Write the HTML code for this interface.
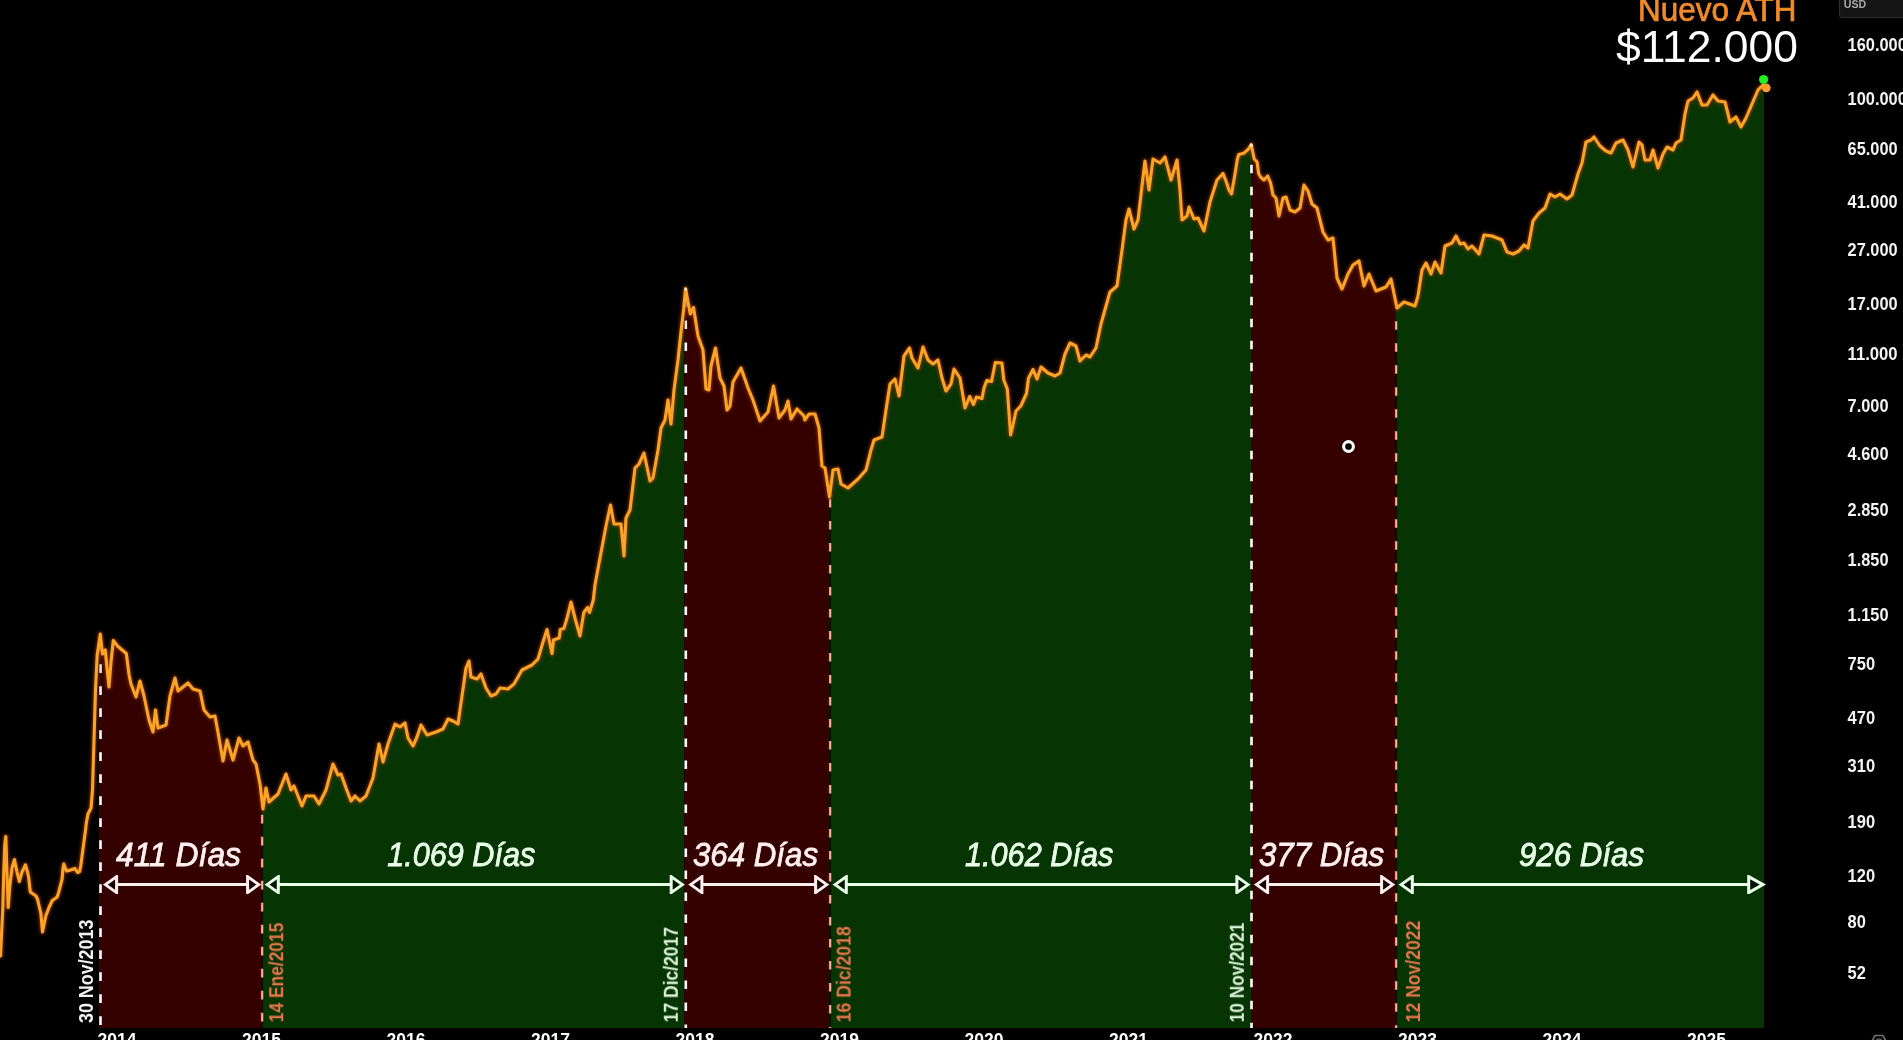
<!DOCTYPE html>
<html lang="es">
<head>
<meta charset="utf-8">
<title>Bitcoin ciclos - Nuevo ATH</title>
<style>
html,body{margin:0;padding:0;background:#000;overflow:hidden}
body{width:1903px;height:1040px;position:relative;font-family:"Liberation Sans",sans-serif}
svg{position:absolute;left:0;top:0;display:block}
svg text{font-family:"Liberation Sans",sans-serif}
</style>
</head>
<body>
<svg width="1903" height="1040" viewBox="0 0 1903 1040">
<defs>
<filter id="glow" x="-5%" y="-5%" width="110%" height="110%"><feGaussianBlur stdDeviation="1.6"/></filter>
<filter id="soft" x="-5%" y="-5%" width="110%" height="110%"><feGaussianBlur stdDeviation="0.6"/></filter>
</defs>
<rect width="1903" height="1040" fill="#000"/>
<g id="regions">
<path d="M98.8,1028 L98.8,644.2 L100.3,634.0 L102.5,654.0 L105.3,650.0 L107.0,668.0 L109.0,687.0 L111.0,662.0 L113.3,640.5 L118.0,646.5 L126.3,653.5 L129.1,675.0 L131.0,684.0 L136.0,697.0 L140.0,681.0 L144.0,696.0 L149.0,720.0 L153.0,732.0 L155.5,710.0 L158.0,728.0 L166.0,725.0 L170.0,696.0 L175.0,678.0 L178.0,691.0 L188.0,683.0 L193.0,689.0 L200.0,691.0 L204.0,710.0 L210.0,717.0 L215.0,716.0 L219.0,738.0 L223.0,761.0 L227.0,740.0 L233.0,760.0 L239.0,738.0 L243.0,746.0 L248.0,742.0 L253.0,760.0 L256.0,764.0 L260.0,784.0 L261.8,799.0 L261.8,1028 Z" fill="#340000"/>
<path d="M261.8,1028 L261.8,799.0 L263.0,809.0 L266.0,788.0 L269.0,802.0 L278.0,794.0 L286.0,774.0 L291.0,790.0 L294.0,786.0 L302.0,806.0 L306.0,796.0 L314.0,796.0 L319.0,804.0 L326.0,790.0 L333.0,764.0 L338.0,775.0 L341.0,774.0 L346.0,788.0 L351.0,801.0 L355.0,796.0 L360.0,801.0 L366.0,796.0 L373.0,778.0 L379.0,744.0 L383.0,762.0 L388.0,744.0 L395.0,724.0 L400.0,727.0 L405.0,723.0 L408.0,738.0 L413.0,746.0 L417.0,737.0 L421.0,725.0 L427.0,735.0 L436.0,732.0 L443.0,729.0 L448.0,719.0 L453.0,721.0 L458.0,724.0 L462.0,696.0 L466.0,668.0 L469.0,661.0 L471.0,677.0 L477.0,679.0 L481.0,674.0 L486.0,688.0 L491.0,696.0 L496.0,694.0 L500.0,688.0 L508.0,689.0 L514.0,684.0 L522.0,670.0 L532.0,665.0 L538.0,659.0 L543.0,642.0 L547.0,629.5 L552.0,653.5 L553.5,640.0 L559.2,638.0 L560.3,629.5 L563.9,628.5 L566.8,619.0 L571.0,602.0 L575.5,620.0 L580.0,636.0 L583.8,612.5 L587.6,607.5 L589.5,612.5 L593.3,600.0 L595.0,585.0 L600.0,558.0 L606.0,526.0 L610.5,505.0 L614.0,524.0 L621.0,524.0 L624.0,556.0 L626.0,518.0 L630.0,510.0 L635.0,468.0 L639.0,464.0 L644.0,453.0 L650.0,481.0 L653.0,478.0 L658.0,450.0 L661.0,428.0 L665.0,420.0 L668.0,400.0 L671.0,424.0 L674.0,390.0 L678.0,360.0 L681.0,332.0 L683.7,309.0 L684.3,302.5 L684.3,1028 Z" fill="#063503"/>
<path d="M684.3,1028 L684.3,302.5 L685.6,288.5 L687.6,300.0 L690.3,314.0 L693.5,307.5 L698.0,336.0 L703.0,350.0 L706.0,389.0 L709.0,390.0 L711.0,366.0 L715.5,348.0 L720.0,378.0 L724.0,386.0 L727.0,410.0 L730.0,406.0 L733.0,382.0 L741.0,368.0 L748.0,388.0 L753.0,400.0 L760.0,421.0 L768.0,412.0 L773.5,386.0 L779.0,418.0 L785.0,410.0 L788.0,401.0 L791.0,419.0 L797.0,409.0 L804.0,416.0 L805.0,420.0 L809.0,414.0 L815.0,414.0 L819.0,428.0 L822.0,466.0 L825.0,468.0 L828.6,491.2 L828.6,1028 Z" fill="#340000"/>
<path d="M828.6,1028 L828.6,491.2 L829.5,497.0 L833.0,470.0 L838.0,469.0 L841.0,484.0 L848.0,488.0 L858.0,479.0 L866.0,470.0 L871.0,450.0 L874.0,440.0 L882.0,437.0 L886.0,410.0 L890.0,384.0 L895.0,379.0 L899.0,396.0 L904.0,356.0 L909.5,348.0 L912.0,358.0 L918.0,368.0 L923.0,347.0 L928.0,360.0 L933.0,364.0 L938.0,360.0 L942.0,378.0 L946.0,391.0 L951.0,384.0 L954.0,369.0 L960.0,378.0 L965.0,408.0 L969.7,396.5 L973.5,404.5 L976.4,397.0 L982.0,398.5 L984.0,388.0 L986.8,380.5 L991.5,381.5 L995.3,362.5 L1001.9,363.0 L1003.8,380.0 L1007.3,389.0 L1010.6,435.0 L1013.0,425.0 L1016.0,411.0 L1020.8,406.0 L1026.5,393.5 L1028.4,378.5 L1033.0,369.5 L1037.0,379.0 L1041.0,367.0 L1048.0,373.0 L1055.0,376.0 L1060.0,373.0 L1065.0,354.0 L1070.0,343.0 L1076.0,346.0 L1080.0,361.0 L1086.0,355.0 L1090.0,357.0 L1096.0,348.0 L1101.0,324.0 L1106.0,306.0 L1110.0,292.0 L1117.0,286.0 L1122.0,250.0 L1126.0,220.0 L1129.0,209.0 L1134.0,229.0 L1138.0,220.0 L1142.0,186.0 L1145.0,161.0 L1149.0,190.0 L1153.0,159.0 L1160.0,163.0 L1165.0,157.0 L1171.0,180.0 L1177.0,160.0 L1180.0,190.0 L1182.0,220.0 L1187.0,216.0 L1189.0,207.0 L1194.0,219.0 L1198.0,218.0 L1204.0,231.0 L1210.0,202.0 L1217.0,180.0 L1223.0,173.5 L1226.0,181.0 L1229.0,190.0 L1231.5,194.0 L1235.0,174.0 L1237.4,159.0 L1238.8,154.5 L1243.7,153.3 L1248.5,149.0 L1251.0,145.0 L1251.0,1028 Z" fill="#063503"/>
<path d="M1251.0,1028 L1251.0,145.0 L1251.3,144.5 L1254.2,159.0 L1257.1,162.0 L1258.6,173.5 L1261.0,177.5 L1264.0,180.0 L1267.7,176.0 L1270.6,183.0 L1273.0,195.0 L1276.0,198.0 L1279.0,216.0 L1283.0,198.0 L1286.0,197.0 L1290.0,210.0 L1295.0,212.0 L1300.0,208.0 L1304.0,185.0 L1308.0,191.0 L1312.0,204.0 L1317.0,208.0 L1323.0,232.0 L1328.0,240.0 L1333.0,238.0 L1337.0,278.0 L1342.0,289.0 L1348.0,274.0 L1353.0,265.0 L1359.0,261.0 L1364.0,286.0 L1369.0,274.0 L1376.0,291.0 L1386.0,287.0 L1391.0,279.0 L1395.2,299.3 L1395.2,1028 Z" fill="#340000"/>
<path d="M1395.2,1028 L1395.2,299.3 L1397.0,308.0 L1404.0,302.0 L1415.0,306.0 L1418.0,296.0 L1422.0,270.0 L1426.0,263.0 L1431.0,274.0 L1435.0,262.0 L1441.0,273.0 L1445.0,246.0 L1452.0,243.0 L1456.0,236.0 L1460.0,244.0 L1464.0,243.0 L1468.0,249.0 L1472.0,246.0 L1479.0,254.0 L1484.0,235.0 L1492.0,236.0 L1502.0,240.0 L1507.0,252.0 L1513.0,254.0 L1519.0,251.0 L1524.0,245.0 L1528.0,248.0 L1533.0,221.0 L1539.0,213.0 L1545.0,208.0 L1550.0,194.0 L1555.0,197.0 L1560.0,194.0 L1567.0,199.0 L1572.0,195.0 L1578.0,174.0 L1582.0,163.0 L1586.0,142.0 L1591.0,140.0 L1594.0,137.0 L1600.0,146.0 L1606.0,151.0 L1611.0,153.0 L1616.0,143.0 L1623.0,140.0 L1628.0,150.0 L1633.0,167.0 L1639.0,142.0 L1642.0,145.0 L1645.0,160.0 L1650.0,160.0 L1653.0,150.0 L1658.0,168.0 L1663.0,154.0 L1667.0,147.0 L1673.0,150.0 L1676.0,143.0 L1681.0,140.0 L1685.0,114.0 L1688.0,101.0 L1693.0,98.0 L1697.0,92.0 L1702.0,105.0 L1707.0,105.0 L1713.0,95.0 L1718.0,101.0 L1725.0,102.0 L1730.0,122.0 L1736.0,117.0 L1741.0,127.0 L1746.0,118.0 L1752.0,104.0 L1758.0,90.0 L1763.0,85.0 L1764.0,85.0 L1764.0,1028 Z" fill="#063503"/>
</g>
<g id="dashes" filter="url(#soft)">
<line x1="100.5" y1="642.3" x2="100.5" y2="1028" stroke="#ffffff" stroke-width="2.6" stroke-dasharray="8.6 13.4"/>
<line x1="262.2" y1="814.8" x2="262.2" y2="1028" stroke="#0c0600" stroke-width="1.8" opacity="0.75"/>
<line x1="261.0" y1="814.8" x2="261.0" y2="1028" stroke="#b01010" stroke-width="1.6" opacity="0.55" stroke-dasharray="8.6 13.4"/>
<line x1="262.2" y1="814.8" x2="262.2" y2="1028" stroke="#e4bca8" stroke-width="2.1" stroke-dasharray="8.6 13.4"/>
<line x1="685.8" y1="298.5" x2="685.8" y2="1028" stroke="#ffffff" stroke-width="2.6" stroke-dasharray="8.6 13.4"/>
<line x1="830.2" y1="499.0" x2="830.2" y2="1028" stroke="#0c0600" stroke-width="1.8" opacity="0.75"/>
<line x1="829.0" y1="499.0" x2="829.0" y2="1028" stroke="#b01010" stroke-width="1.6" opacity="0.55" stroke-dasharray="8.6 13.4"/>
<line x1="830.2" y1="499.0" x2="830.2" y2="1028" stroke="#e4bca8" stroke-width="2.1" stroke-dasharray="8.6 13.4"/>
<line x1="1251.5" y1="164.7" x2="1251.5" y2="1028" stroke="#ffffff" stroke-width="2.6" stroke-dasharray="8.6 13.4"/>
<line x1="1396.2" y1="321.2" x2="1396.2" y2="1028" stroke="#0c0600" stroke-width="1.8" opacity="0.75"/>
<line x1="1395.0" y1="321.2" x2="1395.0" y2="1028" stroke="#b01010" stroke-width="1.6" opacity="0.55" stroke-dasharray="8.6 13.4"/>
<line x1="1396.2" y1="321.2" x2="1396.2" y2="1028" stroke="#e4bca8" stroke-width="2.1" stroke-dasharray="8.6 13.4"/>
</g>
<path d="M0.5,956.0 L1.5,935.0 L2.8,908.0 L3.8,870.0 L4.8,845.0 L5.8,836.5 L6.8,868.0 L8.2,907.5 L9.8,886.0 L12.0,868.0 L14.4,859.5 L17.0,872.0 L19.3,881.5 L22.0,872.0 L25.4,864.8 L27.5,872.0 L28.6,877.0 L30.3,892.0 L36.0,896.0 L37.6,899.5 L40.9,913.5 L42.5,932.0 L45.8,916.0 L49.0,907.5 L52.3,900.5 L57.2,897.0 L58.9,891.5 L62.1,879.0 L62.9,869.0 L63.8,864.0 L66.5,871.0 L69.0,870.5 L75.0,868.5 L77.5,872.5 L79.6,871.5 L80.8,865.5 L83.1,848.0 L85.4,831.0 L86.5,822.0 L88.0,814.0 L91.0,808.0 L92.5,790.0 L94.0,740.0 L95.5,690.0 L97.2,655.0 L100.3,634.0 L102.5,654.0 L105.3,650.0 L107.0,668.0 L109.0,687.0 L111.0,662.0 L113.3,640.5 L118.0,646.5 L126.3,653.5 L129.1,675.0 L131.0,684.0 L136.0,697.0 L140.0,681.0 L144.0,696.0 L149.0,720.0 L153.0,732.0 L155.5,710.0 L158.0,728.0 L166.0,725.0 L170.0,696.0 L175.0,678.0 L178.0,691.0 L188.0,683.0 L193.0,689.0 L200.0,691.0 L204.0,710.0 L210.0,717.0 L215.0,716.0 L219.0,738.0 L223.0,761.0 L227.0,740.0 L233.0,760.0 L239.0,738.0 L243.0,746.0 L248.0,742.0 L253.0,760.0 L256.0,764.0 L260.0,784.0 L263.0,809.0 L266.0,788.0 L269.0,802.0 L278.0,794.0 L286.0,774.0 L291.0,790.0 L294.0,786.0 L302.0,806.0 L306.0,796.0 L314.0,796.0 L319.0,804.0 L326.0,790.0 L333.0,764.0 L338.0,775.0 L341.0,774.0 L346.0,788.0 L351.0,801.0 L355.0,796.0 L360.0,801.0 L366.0,796.0 L373.0,778.0 L379.0,744.0 L383.0,762.0 L388.0,744.0 L395.0,724.0 L400.0,727.0 L405.0,723.0 L408.0,738.0 L413.0,746.0 L417.0,737.0 L421.0,725.0 L427.0,735.0 L436.0,732.0 L443.0,729.0 L448.0,719.0 L453.0,721.0 L458.0,724.0 L462.0,696.0 L466.0,668.0 L469.0,661.0 L471.0,677.0 L477.0,679.0 L481.0,674.0 L486.0,688.0 L491.0,696.0 L496.0,694.0 L500.0,688.0 L508.0,689.0 L514.0,684.0 L522.0,670.0 L532.0,665.0 L538.0,659.0 L543.0,642.0 L547.0,629.5 L552.0,653.5 L553.5,640.0 L559.2,638.0 L560.3,629.5 L563.9,628.5 L566.8,619.0 L571.0,602.0 L575.5,620.0 L580.0,636.0 L583.8,612.5 L587.6,607.5 L589.5,612.5 L593.3,600.0 L595.0,585.0 L600.0,558.0 L606.0,526.0 L610.5,505.0 L614.0,524.0 L621.0,524.0 L624.0,556.0 L626.0,518.0 L630.0,510.0 L635.0,468.0 L639.0,464.0 L644.0,453.0 L650.0,481.0 L653.0,478.0 L658.0,450.0 L661.0,428.0 L665.0,420.0 L668.0,400.0 L671.0,424.0 L674.0,390.0 L678.0,360.0 L681.0,332.0 L683.7,309.0 L685.6,288.5 L687.6,300.0 L690.3,314.0 L693.5,307.5 L698.0,336.0 L703.0,350.0 L706.0,389.0 L709.0,390.0 L711.0,366.0 L715.5,348.0 L720.0,378.0 L724.0,386.0 L727.0,410.0 L730.0,406.0 L733.0,382.0 L741.0,368.0 L748.0,388.0 L753.0,400.0 L760.0,421.0 L768.0,412.0 L773.5,386.0 L779.0,418.0 L785.0,410.0 L788.0,401.0 L791.0,419.0 L797.0,409.0 L804.0,416.0 L805.0,420.0 L809.0,414.0 L815.0,414.0 L819.0,428.0 L822.0,466.0 L825.0,468.0 L829.5,497.0 L833.0,470.0 L838.0,469.0 L841.0,484.0 L848.0,488.0 L858.0,479.0 L866.0,470.0 L871.0,450.0 L874.0,440.0 L882.0,437.0 L886.0,410.0 L890.0,384.0 L895.0,379.0 L899.0,396.0 L904.0,356.0 L909.5,348.0 L912.0,358.0 L918.0,368.0 L923.0,347.0 L928.0,360.0 L933.0,364.0 L938.0,360.0 L942.0,378.0 L946.0,391.0 L951.0,384.0 L954.0,369.0 L960.0,378.0 L965.0,408.0 L969.7,396.5 L973.5,404.5 L976.4,397.0 L982.0,398.5 L984.0,388.0 L986.8,380.5 L991.5,381.5 L995.3,362.5 L1001.9,363.0 L1003.8,380.0 L1007.3,389.0 L1010.6,435.0 L1013.0,425.0 L1016.0,411.0 L1020.8,406.0 L1026.5,393.5 L1028.4,378.5 L1033.0,369.5 L1037.0,379.0 L1041.0,367.0 L1048.0,373.0 L1055.0,376.0 L1060.0,373.0 L1065.0,354.0 L1070.0,343.0 L1076.0,346.0 L1080.0,361.0 L1086.0,355.0 L1090.0,357.0 L1096.0,348.0 L1101.0,324.0 L1106.0,306.0 L1110.0,292.0 L1117.0,286.0 L1122.0,250.0 L1126.0,220.0 L1129.0,209.0 L1134.0,229.0 L1138.0,220.0 L1142.0,186.0 L1145.0,161.0 L1149.0,190.0 L1153.0,159.0 L1160.0,163.0 L1165.0,157.0 L1171.0,180.0 L1177.0,160.0 L1180.0,190.0 L1182.0,220.0 L1187.0,216.0 L1189.0,207.0 L1194.0,219.0 L1198.0,218.0 L1204.0,231.0 L1210.0,202.0 L1217.0,180.0 L1223.0,173.5 L1226.0,181.0 L1229.0,190.0 L1231.5,194.0 L1235.0,174.0 L1237.4,159.0 L1238.8,154.5 L1243.7,153.3 L1248.5,149.0 L1251.3,144.5 L1254.2,159.0 L1257.1,162.0 L1258.6,173.5 L1261.0,177.5 L1264.0,180.0 L1267.7,176.0 L1270.6,183.0 L1273.0,195.0 L1276.0,198.0 L1279.0,216.0 L1283.0,198.0 L1286.0,197.0 L1290.0,210.0 L1295.0,212.0 L1300.0,208.0 L1304.0,185.0 L1308.0,191.0 L1312.0,204.0 L1317.0,208.0 L1323.0,232.0 L1328.0,240.0 L1333.0,238.0 L1337.0,278.0 L1342.0,289.0 L1348.0,274.0 L1353.0,265.0 L1359.0,261.0 L1364.0,286.0 L1369.0,274.0 L1376.0,291.0 L1386.0,287.0 L1391.0,279.0 L1397.0,308.0 L1404.0,302.0 L1415.0,306.0 L1418.0,296.0 L1422.0,270.0 L1426.0,263.0 L1431.0,274.0 L1435.0,262.0 L1441.0,273.0 L1445.0,246.0 L1452.0,243.0 L1456.0,236.0 L1460.0,244.0 L1464.0,243.0 L1468.0,249.0 L1472.0,246.0 L1479.0,254.0 L1484.0,235.0 L1492.0,236.0 L1502.0,240.0 L1507.0,252.0 L1513.0,254.0 L1519.0,251.0 L1524.0,245.0 L1528.0,248.0 L1533.0,221.0 L1539.0,213.0 L1545.0,208.0 L1550.0,194.0 L1555.0,197.0 L1560.0,194.0 L1567.0,199.0 L1572.0,195.0 L1578.0,174.0 L1582.0,163.0 L1586.0,142.0 L1591.0,140.0 L1594.0,137.0 L1600.0,146.0 L1606.0,151.0 L1611.0,153.0 L1616.0,143.0 L1623.0,140.0 L1628.0,150.0 L1633.0,167.0 L1639.0,142.0 L1642.0,145.0 L1645.0,160.0 L1650.0,160.0 L1653.0,150.0 L1658.0,168.0 L1663.0,154.0 L1667.0,147.0 L1673.0,150.0 L1676.0,143.0 L1681.0,140.0 L1685.0,114.0 L1688.0,101.0 L1693.0,98.0 L1697.0,92.0 L1702.0,105.0 L1707.0,105.0 L1713.0,95.0 L1718.0,101.0 L1725.0,102.0 L1730.0,122.0 L1736.0,117.0 L1741.0,127.0 L1746.0,118.0 L1752.0,104.0 L1758.0,90.0 L1763.0,85.0" fill="none" stroke="#8a3a00" stroke-width="5.4" stroke-linejoin="round" stroke-linecap="round" opacity="0.75" filter="url(#glow)"/>
<path d="M0.5,956.0 L1.5,935.0 L2.8,908.0 L3.8,870.0 L4.8,845.0 L5.8,836.5 L6.8,868.0 L8.2,907.5 L9.8,886.0 L12.0,868.0 L14.4,859.5 L17.0,872.0 L19.3,881.5 L22.0,872.0 L25.4,864.8 L27.5,872.0 L28.6,877.0 L30.3,892.0 L36.0,896.0 L37.6,899.5 L40.9,913.5 L42.5,932.0 L45.8,916.0 L49.0,907.5 L52.3,900.5 L57.2,897.0 L58.9,891.5 L62.1,879.0 L62.9,869.0 L63.8,864.0 L66.5,871.0 L69.0,870.5 L75.0,868.5 L77.5,872.5 L79.6,871.5 L80.8,865.5 L83.1,848.0 L85.4,831.0 L86.5,822.0 L88.0,814.0 L91.0,808.0 L92.5,790.0 L94.0,740.0 L95.5,690.0 L97.2,655.0 L100.3,634.0 L102.5,654.0 L105.3,650.0 L107.0,668.0 L109.0,687.0 L111.0,662.0 L113.3,640.5 L118.0,646.5 L126.3,653.5 L129.1,675.0 L131.0,684.0 L136.0,697.0 L140.0,681.0 L144.0,696.0 L149.0,720.0 L153.0,732.0 L155.5,710.0 L158.0,728.0 L166.0,725.0 L170.0,696.0 L175.0,678.0 L178.0,691.0 L188.0,683.0 L193.0,689.0 L200.0,691.0 L204.0,710.0 L210.0,717.0 L215.0,716.0 L219.0,738.0 L223.0,761.0 L227.0,740.0 L233.0,760.0 L239.0,738.0 L243.0,746.0 L248.0,742.0 L253.0,760.0 L256.0,764.0 L260.0,784.0 L263.0,809.0 L266.0,788.0 L269.0,802.0 L278.0,794.0 L286.0,774.0 L291.0,790.0 L294.0,786.0 L302.0,806.0 L306.0,796.0 L314.0,796.0 L319.0,804.0 L326.0,790.0 L333.0,764.0 L338.0,775.0 L341.0,774.0 L346.0,788.0 L351.0,801.0 L355.0,796.0 L360.0,801.0 L366.0,796.0 L373.0,778.0 L379.0,744.0 L383.0,762.0 L388.0,744.0 L395.0,724.0 L400.0,727.0 L405.0,723.0 L408.0,738.0 L413.0,746.0 L417.0,737.0 L421.0,725.0 L427.0,735.0 L436.0,732.0 L443.0,729.0 L448.0,719.0 L453.0,721.0 L458.0,724.0 L462.0,696.0 L466.0,668.0 L469.0,661.0 L471.0,677.0 L477.0,679.0 L481.0,674.0 L486.0,688.0 L491.0,696.0 L496.0,694.0 L500.0,688.0 L508.0,689.0 L514.0,684.0 L522.0,670.0 L532.0,665.0 L538.0,659.0 L543.0,642.0 L547.0,629.5 L552.0,653.5 L553.5,640.0 L559.2,638.0 L560.3,629.5 L563.9,628.5 L566.8,619.0 L571.0,602.0 L575.5,620.0 L580.0,636.0 L583.8,612.5 L587.6,607.5 L589.5,612.5 L593.3,600.0 L595.0,585.0 L600.0,558.0 L606.0,526.0 L610.5,505.0 L614.0,524.0 L621.0,524.0 L624.0,556.0 L626.0,518.0 L630.0,510.0 L635.0,468.0 L639.0,464.0 L644.0,453.0 L650.0,481.0 L653.0,478.0 L658.0,450.0 L661.0,428.0 L665.0,420.0 L668.0,400.0 L671.0,424.0 L674.0,390.0 L678.0,360.0 L681.0,332.0 L683.7,309.0 L685.6,288.5 L687.6,300.0 L690.3,314.0 L693.5,307.5 L698.0,336.0 L703.0,350.0 L706.0,389.0 L709.0,390.0 L711.0,366.0 L715.5,348.0 L720.0,378.0 L724.0,386.0 L727.0,410.0 L730.0,406.0 L733.0,382.0 L741.0,368.0 L748.0,388.0 L753.0,400.0 L760.0,421.0 L768.0,412.0 L773.5,386.0 L779.0,418.0 L785.0,410.0 L788.0,401.0 L791.0,419.0 L797.0,409.0 L804.0,416.0 L805.0,420.0 L809.0,414.0 L815.0,414.0 L819.0,428.0 L822.0,466.0 L825.0,468.0 L829.5,497.0 L833.0,470.0 L838.0,469.0 L841.0,484.0 L848.0,488.0 L858.0,479.0 L866.0,470.0 L871.0,450.0 L874.0,440.0 L882.0,437.0 L886.0,410.0 L890.0,384.0 L895.0,379.0 L899.0,396.0 L904.0,356.0 L909.5,348.0 L912.0,358.0 L918.0,368.0 L923.0,347.0 L928.0,360.0 L933.0,364.0 L938.0,360.0 L942.0,378.0 L946.0,391.0 L951.0,384.0 L954.0,369.0 L960.0,378.0 L965.0,408.0 L969.7,396.5 L973.5,404.5 L976.4,397.0 L982.0,398.5 L984.0,388.0 L986.8,380.5 L991.5,381.5 L995.3,362.5 L1001.9,363.0 L1003.8,380.0 L1007.3,389.0 L1010.6,435.0 L1013.0,425.0 L1016.0,411.0 L1020.8,406.0 L1026.5,393.5 L1028.4,378.5 L1033.0,369.5 L1037.0,379.0 L1041.0,367.0 L1048.0,373.0 L1055.0,376.0 L1060.0,373.0 L1065.0,354.0 L1070.0,343.0 L1076.0,346.0 L1080.0,361.0 L1086.0,355.0 L1090.0,357.0 L1096.0,348.0 L1101.0,324.0 L1106.0,306.0 L1110.0,292.0 L1117.0,286.0 L1122.0,250.0 L1126.0,220.0 L1129.0,209.0 L1134.0,229.0 L1138.0,220.0 L1142.0,186.0 L1145.0,161.0 L1149.0,190.0 L1153.0,159.0 L1160.0,163.0 L1165.0,157.0 L1171.0,180.0 L1177.0,160.0 L1180.0,190.0 L1182.0,220.0 L1187.0,216.0 L1189.0,207.0 L1194.0,219.0 L1198.0,218.0 L1204.0,231.0 L1210.0,202.0 L1217.0,180.0 L1223.0,173.5 L1226.0,181.0 L1229.0,190.0 L1231.5,194.0 L1235.0,174.0 L1237.4,159.0 L1238.8,154.5 L1243.7,153.3 L1248.5,149.0 L1251.3,144.5 L1254.2,159.0 L1257.1,162.0 L1258.6,173.5 L1261.0,177.5 L1264.0,180.0 L1267.7,176.0 L1270.6,183.0 L1273.0,195.0 L1276.0,198.0 L1279.0,216.0 L1283.0,198.0 L1286.0,197.0 L1290.0,210.0 L1295.0,212.0 L1300.0,208.0 L1304.0,185.0 L1308.0,191.0 L1312.0,204.0 L1317.0,208.0 L1323.0,232.0 L1328.0,240.0 L1333.0,238.0 L1337.0,278.0 L1342.0,289.0 L1348.0,274.0 L1353.0,265.0 L1359.0,261.0 L1364.0,286.0 L1369.0,274.0 L1376.0,291.0 L1386.0,287.0 L1391.0,279.0 L1397.0,308.0 L1404.0,302.0 L1415.0,306.0 L1418.0,296.0 L1422.0,270.0 L1426.0,263.0 L1431.0,274.0 L1435.0,262.0 L1441.0,273.0 L1445.0,246.0 L1452.0,243.0 L1456.0,236.0 L1460.0,244.0 L1464.0,243.0 L1468.0,249.0 L1472.0,246.0 L1479.0,254.0 L1484.0,235.0 L1492.0,236.0 L1502.0,240.0 L1507.0,252.0 L1513.0,254.0 L1519.0,251.0 L1524.0,245.0 L1528.0,248.0 L1533.0,221.0 L1539.0,213.0 L1545.0,208.0 L1550.0,194.0 L1555.0,197.0 L1560.0,194.0 L1567.0,199.0 L1572.0,195.0 L1578.0,174.0 L1582.0,163.0 L1586.0,142.0 L1591.0,140.0 L1594.0,137.0 L1600.0,146.0 L1606.0,151.0 L1611.0,153.0 L1616.0,143.0 L1623.0,140.0 L1628.0,150.0 L1633.0,167.0 L1639.0,142.0 L1642.0,145.0 L1645.0,160.0 L1650.0,160.0 L1653.0,150.0 L1658.0,168.0 L1663.0,154.0 L1667.0,147.0 L1673.0,150.0 L1676.0,143.0 L1681.0,140.0 L1685.0,114.0 L1688.0,101.0 L1693.0,98.0 L1697.0,92.0 L1702.0,105.0 L1707.0,105.0 L1713.0,95.0 L1718.0,101.0 L1725.0,102.0 L1730.0,122.0 L1736.0,117.0 L1741.0,127.0 L1746.0,118.0 L1752.0,104.0 L1758.0,90.0 L1763.0,85.0" fill="none" stroke="#fca227" stroke-width="3.1" stroke-linejoin="round" stroke-linecap="round" filter="url(#soft)"/>
<g id="arrows" filter="url(#soft)">
<line x1="116.6" y1="884.6" x2="247.6" y2="884.6" stroke="#ffeeee" stroke-width="3.0"/><path d="M105.4,884.6 L116.6,876.6 L116.6,892.6 Z" fill="#000" fill-opacity="0.6" stroke="#ffeeee" stroke-width="3.0" stroke-linejoin="miter"/><path d="M258.8,884.6 L247.6,876.6 L247.6,892.6 Z" fill="#000" fill-opacity="0.6" stroke="#ffeeee" stroke-width="3.0" stroke-linejoin="miter"/>
<line x1="278.3" y1="884.6" x2="671.2" y2="884.6" stroke="#e8ffe8" stroke-width="3.0"/><path d="M267.1,884.6 L278.3,876.6 L278.3,892.6 Z" fill="#000" fill-opacity="0.6" stroke="#e8ffe8" stroke-width="3.0" stroke-linejoin="miter"/><path d="M682.4,884.6 L671.2,876.6 L671.2,892.6 Z" fill="#000" fill-opacity="0.6" stroke="#e8ffe8" stroke-width="3.0" stroke-linejoin="miter"/>
<line x1="701.9" y1="884.6" x2="815.6" y2="884.6" stroke="#ffeeee" stroke-width="3.0"/><path d="M690.7,884.6 L701.9,876.6 L701.9,892.6 Z" fill="#000" fill-opacity="0.6" stroke="#ffeeee" stroke-width="3.0" stroke-linejoin="miter"/><path d="M826.8,884.6 L815.6,876.6 L815.6,892.6 Z" fill="#000" fill-opacity="0.6" stroke="#ffeeee" stroke-width="3.0" stroke-linejoin="miter"/>
<line x1="846.3" y1="884.6" x2="1236.9" y2="884.6" stroke="#e8ffe8" stroke-width="3.0"/><path d="M835.1,884.6 L846.3,876.6 L846.3,892.6 Z" fill="#000" fill-opacity="0.6" stroke="#e8ffe8" stroke-width="3.0" stroke-linejoin="miter"/><path d="M1248.1,884.6 L1236.9,876.6 L1236.9,892.6 Z" fill="#000" fill-opacity="0.6" stroke="#e8ffe8" stroke-width="3.0" stroke-linejoin="miter"/>
<line x1="1267.6" y1="884.6" x2="1381.6" y2="884.6" stroke="#ffeeee" stroke-width="3.0"/><path d="M1256.4,884.6 L1267.6,876.6 L1267.6,892.6 Z" fill="#000" fill-opacity="0.6" stroke="#ffeeee" stroke-width="3.0" stroke-linejoin="miter"/><path d="M1392.8,884.6 L1381.6,876.6 L1381.6,892.6 Z" fill="#000" fill-opacity="0.6" stroke="#ffeeee" stroke-width="3.0" stroke-linejoin="miter"/>
<line x1="1412.3" y1="884.6" x2="1748.7" y2="884.6" stroke="#e8ffe8" stroke-width="3.0"/><path d="M1401.1,884.6 L1412.3,876.6 L1412.3,892.6 Z" fill="#000" fill-opacity="0.6" stroke="#e8ffe8" stroke-width="3.0" stroke-linejoin="miter"/><path d="M1763.0,884.6 L1748.7,876.6 L1748.7,892.6 Z" fill="#000" fill-opacity="0.6" stroke="#e8ffe8" stroke-width="3.0" stroke-linejoin="miter"/>
</g>
<g id="durations" filter="url(#soft)">
<text x="116.0" y="866.3" font-size="34" font-style="italic" fill="#fff0f0" stroke="#fff0f0" stroke-width="0.8" textLength="125.0" lengthAdjust="spacingAndGlyphs">411 Días</text>
<text x="387.3" y="866.3" font-size="34" font-style="italic" fill="#eaffea" stroke="#eaffea" stroke-width="0.8" textLength="148.0" lengthAdjust="spacingAndGlyphs">1.069 Días</text>
<text x="693.0" y="866.3" font-size="34" font-style="italic" fill="#fff0f0" stroke="#fff0f0" stroke-width="0.8" textLength="125.0" lengthAdjust="spacingAndGlyphs">364 Días</text>
<text x="965.0" y="866.3" font-size="34" font-style="italic" fill="#eaffea" stroke="#eaffea" stroke-width="0.8" textLength="148.3" lengthAdjust="spacingAndGlyphs">1.062 Días</text>
<text x="1259.0" y="866.3" font-size="34" font-style="italic" fill="#fff0f0" stroke="#fff0f0" stroke-width="0.8" textLength="125.0" lengthAdjust="spacingAndGlyphs">377 Días</text>
<text x="1519.0" y="866.3" font-size="34" font-style="italic" fill="#eaffea" stroke="#eaffea" stroke-width="0.8" textLength="125.0" lengthAdjust="spacingAndGlyphs">926 Días</text>
</g>
<g id="dates" filter="url(#soft)">
<text transform="translate(93.4,1023.0) rotate(-90)" font-size="20" font-weight="bold" fill="#f2f2f2" textLength="103.4" lengthAdjust="spacingAndGlyphs">30 Nov/2013</text>
<text transform="translate(283.2,1022.3) rotate(-90)" font-size="20" font-weight="bold" fill="#e8764e" textLength="99.6" lengthAdjust="spacingAndGlyphs">14 Ene/2015</text>
<text transform="translate(677.8,1022.3) rotate(-90)" font-size="20" font-weight="bold" fill="#dcf6dc" textLength="95.3" lengthAdjust="spacingAndGlyphs">17 Dic/2017</text>
<text transform="translate(850.6,1022.3) rotate(-90)" font-size="20" font-weight="bold" fill="#e8764e" textLength="96.0" lengthAdjust="spacingAndGlyphs">16 Dic/2018</text>
<text transform="translate(1243.8,1022.3) rotate(-90)" font-size="20" font-weight="bold" fill="#dcf6dc" textLength="99.6" lengthAdjust="spacingAndGlyphs">10 Nov/2021</text>
<text transform="translate(1420.0,1022.3) rotate(-90)" font-size="20" font-weight="bold" fill="#e8764e" textLength="101.5" lengthAdjust="spacingAndGlyphs">12 Nov/2022</text>
</g>
<g id="axis" filter="url(#soft)">
<text x="1847.6" y="50.7" font-size="18" font-weight="bold" fill="#f4f4f4" textLength="59.2" lengthAdjust="spacingAndGlyphs">160.000</text>
<text x="1847.6" y="104.7" font-size="18" font-weight="bold" fill="#f4f4f4" textLength="59.2" lengthAdjust="spacingAndGlyphs">100.000</text>
<text x="1847.6" y="154.7" font-size="18" font-weight="bold" fill="#f4f4f4" textLength="50.0" lengthAdjust="spacingAndGlyphs">65.000</text>
<text x="1847.6" y="207.7" font-size="18" font-weight="bold" fill="#f4f4f4" textLength="50.0" lengthAdjust="spacingAndGlyphs">41.000</text>
<text x="1847.6" y="255.7" font-size="18" font-weight="bold" fill="#f4f4f4" textLength="50.0" lengthAdjust="spacingAndGlyphs">27.000</text>
<text x="1847.6" y="309.7" font-size="18" font-weight="bold" fill="#f4f4f4" textLength="50.0" lengthAdjust="spacingAndGlyphs">17.000</text>
<text x="1847.6" y="359.7" font-size="18" font-weight="bold" fill="#f4f4f4" textLength="50.0" lengthAdjust="spacingAndGlyphs">11.000</text>
<text x="1847.6" y="411.7" font-size="18" font-weight="bold" fill="#f4f4f4" textLength="40.9" lengthAdjust="spacingAndGlyphs">7.000</text>
<text x="1847.6" y="459.7" font-size="18" font-weight="bold" fill="#f4f4f4" textLength="40.9" lengthAdjust="spacingAndGlyphs">4.600</text>
<text x="1847.6" y="515.7" font-size="18" font-weight="bold" fill="#f4f4f4" textLength="40.9" lengthAdjust="spacingAndGlyphs">2.850</text>
<text x="1847.6" y="565.7" font-size="18" font-weight="bold" fill="#f4f4f4" textLength="40.9" lengthAdjust="spacingAndGlyphs">1.850</text>
<text x="1847.6" y="620.7" font-size="18" font-weight="bold" fill="#f4f4f4" textLength="40.9" lengthAdjust="spacingAndGlyphs">1.150</text>
<text x="1847.6" y="669.7" font-size="18" font-weight="bold" fill="#f4f4f4" textLength="27.5" lengthAdjust="spacingAndGlyphs">750</text>
<text x="1847.6" y="723.7" font-size="18" font-weight="bold" fill="#f4f4f4" textLength="27.5" lengthAdjust="spacingAndGlyphs">470</text>
<text x="1847.6" y="771.7" font-size="18" font-weight="bold" fill="#f4f4f4" textLength="27.5" lengthAdjust="spacingAndGlyphs">310</text>
<text x="1847.6" y="827.7" font-size="18" font-weight="bold" fill="#f4f4f4" textLength="27.5" lengthAdjust="spacingAndGlyphs">190</text>
<text x="1847.6" y="881.7" font-size="18" font-weight="bold" fill="#f4f4f4" textLength="27.5" lengthAdjust="spacingAndGlyphs">120</text>
<text x="1847.6" y="927.7" font-size="18" font-weight="bold" fill="#f4f4f4" textLength="18.3" lengthAdjust="spacingAndGlyphs">80</text>
<text x="1847.6" y="978.7" font-size="18" font-weight="bold" fill="#f4f4f4" textLength="18.3" lengthAdjust="spacingAndGlyphs">52</text>
</g>
<g id="years" filter="url(#soft)">
<text x="117.0" y="1045.6" font-size="17.5" font-weight="bold" fill="#ffffff" text-anchor="middle">2014</text>
<text x="261.5" y="1045.6" font-size="17.5" font-weight="bold" fill="#ffffff" text-anchor="middle">2015</text>
<text x="406.0" y="1045.6" font-size="17.5" font-weight="bold" fill="#ffffff" text-anchor="middle">2016</text>
<text x="550.5" y="1045.6" font-size="17.5" font-weight="bold" fill="#ffffff" text-anchor="middle">2017</text>
<text x="695.0" y="1045.6" font-size="17.5" font-weight="bold" fill="#ffffff" text-anchor="middle">2018</text>
<text x="839.5" y="1045.6" font-size="17.5" font-weight="bold" fill="#ffffff" text-anchor="middle">2019</text>
<text x="984.0" y="1045.6" font-size="17.5" font-weight="bold" fill="#ffffff" text-anchor="middle">2020</text>
<text x="1128.5" y="1045.6" font-size="17.5" font-weight="bold" fill="#ffffff" text-anchor="middle">2021</text>
<text x="1273.0" y="1045.6" font-size="17.5" font-weight="bold" fill="#ffffff" text-anchor="middle">2022</text>
<text x="1417.5" y="1045.6" font-size="17.5" font-weight="bold" fill="#ffffff" text-anchor="middle">2023</text>
<text x="1562.0" y="1045.6" font-size="17.5" font-weight="bold" fill="#ffffff" text-anchor="middle">2024</text>
<text x="1706.5" y="1045.6" font-size="17.5" font-weight="bold" fill="#ffffff" text-anchor="middle">2025</text>
</g>
<circle cx="1251.3" cy="145.2" r="1.5" fill="#fff4e0" filter="url(#soft)"/>
<circle cx="685.8" cy="289.2" r="1.3" fill="#e8f0ff" filter="url(#soft)"/>
<!-- end markers -->
<circle cx="1766.3" cy="87.8" r="4.4" fill="#ff9a2e"/>
<circle cx="1763.6" cy="79.5" r="4.6" fill="#22ee22"/>
<!-- cursor -->
<circle cx="1348.5" cy="446.5" r="7" fill="#1a0000"/>
<circle cx="1348.5" cy="446.5" r="4.9" fill="#000" stroke="#ffffff" stroke-width="3.1"/>
<!-- top-right texts -->
<text x="1638" y="20.5" font-size="33" fill="#f28a28" stroke="#f28a28" stroke-width="0.7" textLength="158.5" lengthAdjust="spacingAndGlyphs">Nuevo ATH</text>
<text x="1616" y="62" font-size="45" fill="#ffffff" textLength="182" lengthAdjust="spacingAndGlyphs">$112.000</text>
<!-- USD tag -->
<rect x="1839.5" y="-6" width="80" height="23.5" rx="3" fill="#151515" stroke="#2e2e2e" stroke-width="1.2"/>
<text x="1843.8" y="8" font-size="11" font-weight="bold" fill="#a8a8a8" textLength="22.5" lengthAdjust="spacingAndGlyphs">USD</text>
<!-- bottom-right tiny icon -->
<path d="M1871,1043 L1875,1035.5 L1883,1035.5 L1887,1043 Z" fill="none" stroke="#6e6e6e" stroke-width="1.6"/>
<circle cx="1879" cy="1042" r="3" fill="none" stroke="#5a5a5a" stroke-width="1.4"/>
</svg>
</body>
</html>
